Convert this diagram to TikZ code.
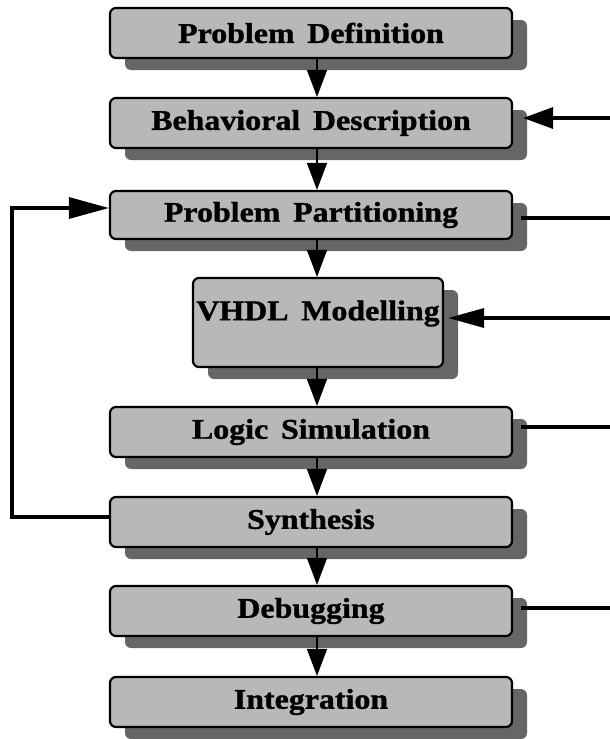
\documentclass[tikz,border=0pt]{standalone}
\usepackage{fontspec}
\newfontfamily\boxfont[FakeStretch=1.12,FakeBold=1.2,WordSpace=1.6]{Liberation Serif}
\usetikzlibrary{arrows.meta,shadows}
\definecolor{boxgray}{gray}{0.72}
\definecolor{shadowgray}{gray}{0.40}
\begin{document}
\begin{tikzpicture}[x=1pt,y=-1pt,
  stepbox/.style={draw=black, line width=2.2pt, rounded corners=6pt, fill=boxgray,
    font=\boxfont\bfseries\fontsize{28.5}{30}\selectfont,
    minimum width=402pt, minimum height=50pt, inner sep=0pt,
    drop shadow={shadow xshift=15pt, shadow yshift=-12pt, fill=shadowgray, opacity=1}},
  flow/.style={line width=1.6pt, -{Triangle[length=27pt,width=20pt]}},
  feed/.style={line width=3.4pt},
  feedarrow/.style={line width=3.4pt, -{Triangle[length=30pt,width=21pt]}},
]
\useasboundingbox (0,0) rectangle (610,739);

\node[stepbox] (pd) at (311,33) {Problem Definition};
\node[stepbox] (bd) at (311,123) {Behavioral Description};
\node[stepbox, minimum height=48pt] (pp) at (311,215) {Problem Partitioning};
\node[stepbox, minimum width=250pt, minimum height=89pt] (vm) at (318,322.5)
  {\raisebox{9pt}[\height][\depth]{VHDL Modelling}};
\node[stepbox] (ls) at (311,432) {Logic Simulation};
\node[stepbox] (sy) at (311,522) {Synthesis};
\node[stepbox] (db) at (311,611) {Debugging};
\node[stepbox] (in) at (311,702) {Integration};

% vertical flow axis
\coordinate (axis) at (317,0);
\draw[flow] (pd.south -| axis) -- (bd.north -| axis);
\draw[flow] (bd.south -| axis) -- (pp.north -| axis);
\draw[flow] (pp.south -| axis) -- (vm.north -| axis);
\draw[flow] (vm.south -| axis) -- (ls.north -| axis);
\draw[flow] (ls.south -| axis) -- (sy.north -| axis);
\draw[flow] (sy.south -| axis) -- (db.north -| axis);
\draw[flow] (db.south -| axis) -- (in.north -| axis);

% right-hand feedback lines
\coordinate (r1) at (610,118);
\coordinate (r2) at (610,218);
\coordinate (r3) at (610,318);
\coordinate (r4) at (610,427);
\coordinate (r5) at (610,608);
\coordinate (bdin) at ([xshift=10pt]bd.east);
\coordinate (vmin) at ([xshift=4pt]vm.east);
\coordinate (ppout) at ([xshift=8pt]pp.east);
\coordinate (lsout) at ([xshift=8pt]ls.east);
\coordinate (dbout) at ([xshift=8pt]db.east);
\draw[feedarrow] (r1) -- (bdin |- r1);
\draw[feed] (ppout |- r2) -- (r2);
\draw[feedarrow, -{Triangle[length=36pt,width=19pt]}] (r3) -- (vmin |- r3);
\draw[feed] (lsout |- r4) -- (r4);
\draw[feed] (dbout |- r5) -- (r5);

% left loop
\coordinate (lb) at (12,517);
\coordinate (lt) at (12,208);
\draw[feed, -{Triangle[length=40pt,width=21pt]}] (sy.west |- lb) -- (lb) -- (lt) -- (pp.west |- lt);
\end{tikzpicture}
\end{document}
